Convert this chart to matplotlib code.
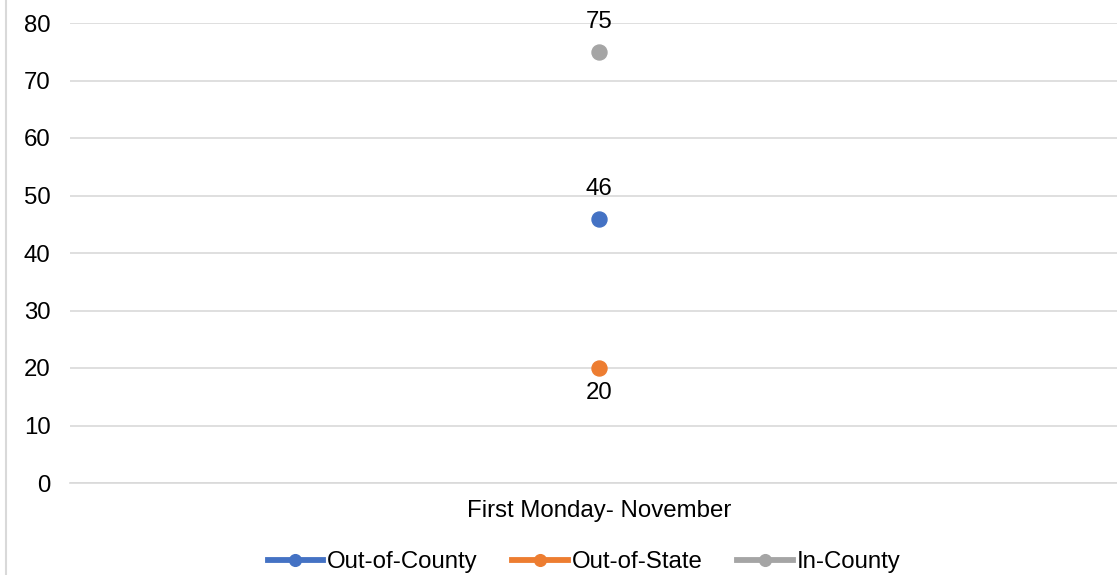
import matplotlib.pyplot as plt
from matplotlib.lines import Line2D

plt.rcParams['font.family'] = ['Liberation Sans', 'DejaVu Sans']

# one category, three visitor groups
categories = ["First Monday- November"]
series_names = ["Out-of-County", "Out-of-State", "In-County"]
series_values = [[46], [20], [75]]
series_colors = ["#4472C4", "#ED7D31", "#A5A5A5"]
label_pos = ["above", "below", "above"]
y_ticks = [0, 10, 20, 30, 40, 50, 60, 70, 80]

FS = 17.3

fig = plt.figure(figsize=(11.17, 5.75), dpi=100)
ax = fig.add_axes([70 / 1117, 1 - 483 / 575, 1 - 70 / 1117, (483 - 23) / 575])

x = list(range(len(categories)))
for name, vals, col, pos in zip(series_names, series_values, series_colors, label_pos):
    ax.plot(x, vals, color=col, marker="o", markersize=10.8, linewidth=3,
            label=name, zorder=3, clip_on=False)
    for xi, v in zip(x, vals):
        dy = 17 if pos == "above" else -22.5
        ax.annotate(str(v), (xi, v), xytext=(0, dy), textcoords="offset points",
                    ha="center", va="baseline", fontsize=FS, color="#000000")

ax.set_ylim(0, 80)
ax.set_xlim(-0.5, 0.4895)
ax.set_yticks(y_ticks)
ax.set_xticks(x)
ax.set_xticklabels(categories)
ax.tick_params(axis="both", length=0, labelsize=FS, colors="#000000")
ax.tick_params(axis="y", pad=14)
ax.tick_params(axis="x", pad=12)
ax.grid(axis="y", color="#D9D9D9", linewidth=1.2)
ax.set_axisbelow(True)
for s in ["top", "right", "left"]:
    ax.spines[s].set_visible(False)
ax.spines["bottom"].set_color("#D9D9D9")
ax.spines["bottom"].set_linewidth(1.2)

# chart border on the left
fig.add_artist(Line2D([6 / 1117, 6 / 1117], [0, 1], color="#D9D9D9", linewidth=1.5))

leg = fig.legend(loc="center", bbox_to_anchor=(584 / 1117, 1 - 562 / 575), ncol=3,
                 frameon=False, fontsize=FS, handlelength=2.3, handletextpad=0.17,
                 columnspacing=1.45, markerscale=0.78)
for h in leg.legend_handles:
    h.set_linewidth(4.2)

fig.savefig("out.png", dpi=100)
